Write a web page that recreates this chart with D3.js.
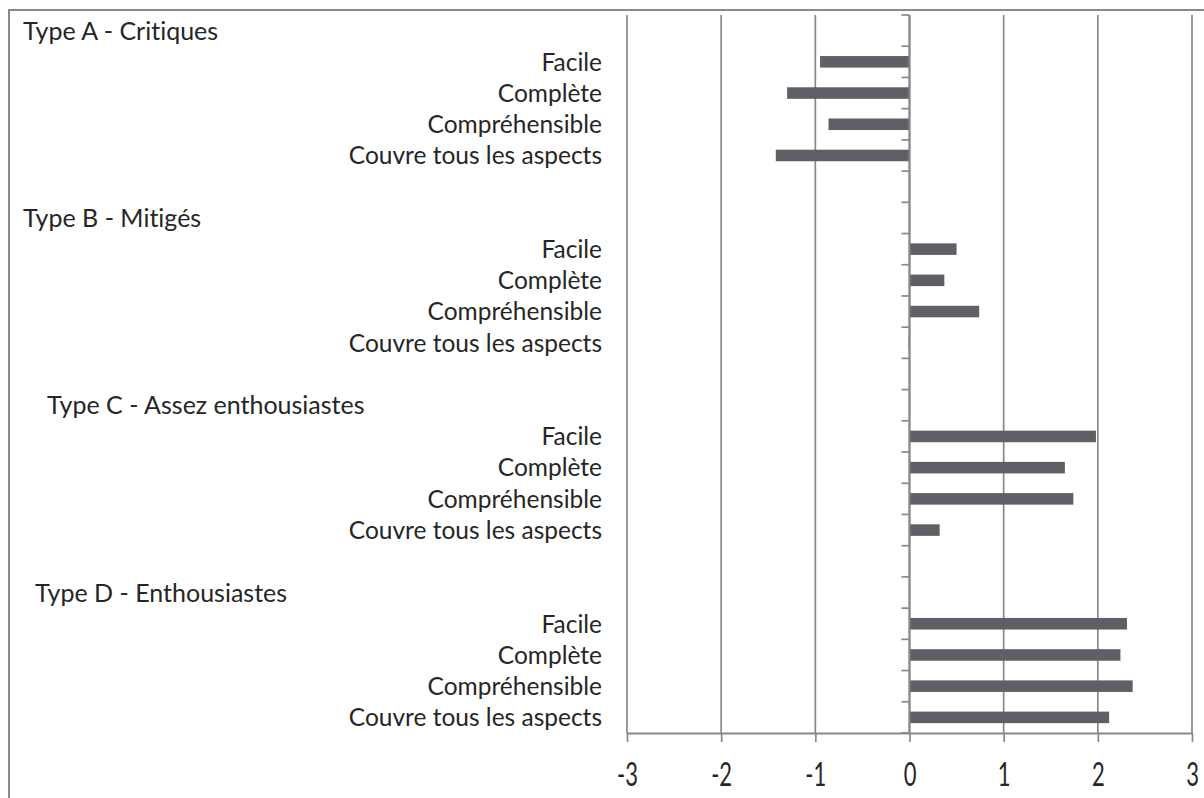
<!DOCTYPE html>
<html>
<head>
<meta charset="utf-8">
<script src="https://cdn.jsdelivr.net/npm/d3@7"></script>
<style>
  html, body { margin: 0; padding: 0; background: #fff; }
  svg { display: block; }
  text { font-family: Lato, "Open Sans", sans-serif; fill: #262626; font-variant-ligatures: none; }
</style>
</head>
<body>
<svg id="chart" width="1204" height="798"></svg>
<script>
// Survey groups and the four criteria rated by each group
const groups = ["Type A - Critiques", "Type B - Mitigés", "Type C - Assez enthousiastes", "Type D - Enthousiastes"];
const criteria = ["Facile", "Complète", "Compréhensible", "Couvre tous les aspects"];

// Mean score per criterion, one array per group
const typeA = [-0.95, -1.30, -0.86, -1.42];
const typeB = [0.50, 0.37, 0.74, -0.01];
const typeC = [1.98, 1.65, 1.74, 0.32];
const typeD = [2.31, 2.24, 2.37, 2.12];

const xTicks = [-3, -2, -1, 0, 1, 2, 3];

const groupValues = [typeA, typeB, typeC, typeD];

// Layout
const W = 1204, H = 798;
const plot = { left: 627, right: 1192, top: 15, bottom: 733 };
const labelRight = 602;
const headerLeft = 23;
const headerShift = [0, 0, 24, 12];   // extra indent of each group heading
const gridColor = "#888888";
const barColor = "#5f6065";

// Rows: heading, four criteria, then a spacer between groups
const rows = [];
groups.forEach((g, gi) => {
  rows.push({ id: `h${gi}`, kind: "header", label: g, group: gi });
  criteria.forEach((c, ci) => {
    rows.push({ id: `r${gi}-${ci}`, kind: "item", label: c, value: groupValues[gi][ci], group: gi });
  });
  if (gi < groups.length - 1) rows.push({ id: `s${gi}`, kind: "spacer", group: gi });
});

const svg = d3.select("#chart");

// Outer frame (right and bottom edges run past the canvas)
svg.append("rect")
  .attr("x", 9).attr("y", 10)
  .attr("width", W + 20).attr("height", H + 20)
  .attr("fill", "none").attr("stroke", "#8a8a8a").attr("stroke-width", 2);

const x = d3.scaleLinear().domain([-3, 3]).range([plot.left, plot.right]);
const y = d3.scaleBand().domain(rows.map(r => r.id)).range([plot.top, plot.bottom]).padding(0);

// Vertical gridlines
svg.append("g")
  .selectAll("line")
  .data(xTicks)
  .join("line")
  .attr("x1", d => x(d)).attr("x2", d => x(d))
  .attr("y1", plot.top).attr("y2", plot.bottom)
  .attr("stroke", gridColor).attr("stroke-width", 1.7);

// Bars
const barH = y.bandwidth() * 0.37;
svg.append("g")
  .selectAll("rect")
  .data(rows.filter(r => r.kind === "item"))
  .join("rect")
  .attr("x", d => Math.min(x(0), x(d.value)))
  .attr("width", d => Math.max(1, Math.abs(x(d.value) - x(0))))
  .attr("y", d => y(d.id) + (y.bandwidth() - barH) / 2)
  .attr("height", barH)
  .attr("fill", barColor);

// Category axis along x = 0, with ticks at every row boundary
const boundaries = rows.map(r => y(r.id)).concat([plot.bottom]);
const yAxis = svg.append("g");
yAxis.append("line")
  .attr("x1", x(0)).attr("x2", x(0))
  .attr("y1", plot.top).attr("y2", plot.bottom)
  .attr("stroke", gridColor).attr("stroke-width", 2);
yAxis.selectAll("line.tick")
  .data(boundaries)
  .join("line")
  .attr("class", "tick")
  .attr("x1", x(0) - 8).attr("x2", x(0))
  .attr("y1", d => d).attr("y2", d => d)
  .attr("stroke", gridColor).attr("stroke-width", 1.7);

// Value axis at the bottom
const xAxis = svg.append("g")
  .attr("transform", `translate(0,${plot.bottom})`)
  .call(d3.axisBottom(x).tickValues(xTicks).tickSize(9).tickSizeOuter(0).tickFormat(d3.format("d")));
xAxis.select(".domain").attr("stroke", gridColor).attr("stroke-width", 2);
xAxis.selectAll(".tick line").attr("stroke", gridColor).attr("stroke-width", 1.7);
xAxis.selectAll(".tick text")
  .attr("y", 0).attr("dy", null)
  .attr("transform", "translate(0,53) scale(1,1.45)")
  .attr("text-anchor", "middle")
  .style("font-family", "Lato, 'Open Sans', sans-serif")
  .style("font-size", "22px")
  .style("fill", "#262626");
// Plain hyphen for negative values
xAxis.selectAll(".tick text").text(d => (d < 0 ? "-" + Math.abs(d) : String(d)));

// Row labels
const labels = svg.append("g");
labels.selectAll("text.item")
  .data(rows.filter(r => r.kind === "item"))
  .join("text")
  .attr("class", "item")
  .attr("x", labelRight)
  .attr("y", d => y(d.id) + y.bandwidth() / 2)
  .attr("dy", "0.36em")
  .attr("text-anchor", "end")
  .style("font-size", "24.5px")
  .text(d => d.label);

labels.selectAll("text.header")
  .data(rows.filter(r => r.kind === "header"))
  .join("text")
  .attr("class", "header")
  .attr("x", d => headerLeft + headerShift[d.group])
  .attr("y", d => y(d.id) + y.bandwidth() / 2)
  .attr("dy", "0.36em")
  .attr("text-anchor", "start")
  .style("font-size", "25px")
  .text(d => d.label);
</script>
</body>
</html>
